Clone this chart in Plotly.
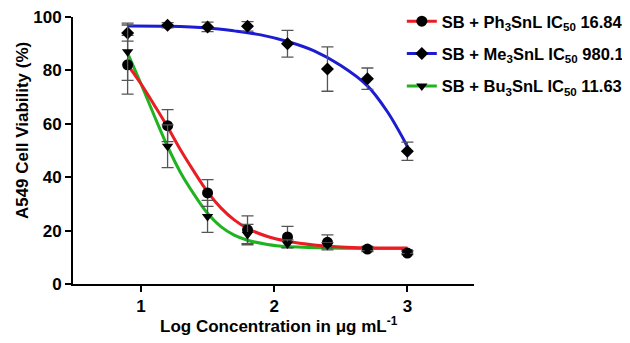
import plotly.graph_objects as go

# ---- data ----
log_conc = [0.9, 1.2, 1.5, 1.8, 2.1, 2.4, 2.7, 3.0]

ph_viab = [82.1, 59.3, 34.1, 20.3, 17.6, 15.6, 13.1, 11.6]
ph_err = [11.0, 6.0, 5.0, 5.2, 4.0, 2.8, 1.0, 0.6]

me_viab = [94.0, 96.9, 96.3, 96.5, 90.0, 80.5, 76.9, 49.7]
me_err = [3.0, 1.0, 1.8, 1.8, 5.0, 8.3, 4.0, 3.4]

bu_viab = [87.0, 51.6, 25.3, 18.5, 15.0, 14.5, 13.0, 12.0]
bu_err = [10.7, 8.0, 6.0, 3.8, 1.5, 1.0, 0.5, 0.5]

# fitted curves
ph_fit_x = [0.9, 1.0, 1.1, 1.2, 1.3, 1.4, 1.5, 1.6, 1.7, 1.8, 1.95, 2.1, 2.3, 2.5, 2.7, 3.0]
ph_fit_y = [82.1, 75.0, 67.0, 58.8, 50.0, 42.0, 34.5, 28.5, 24.0, 20.8, 17.8, 16.0, 14.6, 13.9, 13.6, 13.5]

bu_fit_x = [0.9, 1.0, 1.1, 1.2, 1.3, 1.4, 1.5, 1.6, 1.7, 1.8, 1.95, 2.1, 2.4, 3.0]
bu_fit_y = [86.5, 75.0, 63.0, 51.5, 41.5, 33.5, 26.5, 21.5, 18.3, 16.4, 14.8, 14.0, 13.5, 13.3]

me_fit_x = [0.9, 1.2, 1.5, 1.7, 1.9, 2.1, 2.3, 2.5, 2.7, 2.85, 3.0]
me_fit_y = [96.6, 96.5, 95.9, 94.8, 93.3, 90.8, 87.3, 81.8, 74.2, 64.5, 51.5]

names = [
    "SB + Ph<sub>3</sub>SnL IC<sub>50</sub> 16.84",
    "SB + Me<sub>3</sub>SnL IC<sub>50</sub> 980.1",
    "SB + Bu<sub>3</sub>SnL IC<sub>50</sub> 11.63",
]
x_title = "Log Concentration in μg mL<sup>-1</sup>"
y_title = "A549 Cell Viability (%)"
x_ticks = [1, 2, 3]
y_ticks = [0, 20, 40, 60, 80, 100]

RED, BLUE, GREEN = "#ea1c24", "#1c1cd0", "#1fb31f"
FONT = "Liberation Sans, Arial, sans-serif"

fig = go.Figure()

series = [
    (ph_fit_x, ph_fit_y, ph_viab, ph_err, RED, "circle", 11, names[0]),
    (me_fit_x, me_fit_y, me_viab, me_err, BLUE, "diamond", 10, names[1]),
    (bu_fit_x, bu_fit_y, bu_viab, bu_err, GREEN, "triangle-down", 10, names[2]),
]

# curves
for fx, fy, _, _, col, _, _, _ in [series[1], series[2], series[0]]:
    fig.add_trace(go.Scatter(x=fx, y=fy, mode="lines", line=dict(color=col, width=3, shape="spline"),
                             showlegend=False, hoverinfo="skip"))

# points with error bars
for fx, fy, vy, ve, col, sym, sz, nm in series:
    fig.add_trace(go.Scatter(
        x=log_conc, y=vy, mode="markers",
        marker=dict(symbol=sym, size=sz, color="black"),
        error_y=dict(type="data", array=ve, visible=True, color="#555555", thickness=1.3, width=6),
        showlegend=False,
    ))

# legend entries
for i, (fx, fy, vy, ve, col, sym, sz, nm) in enumerate(series):
    fig.add_trace(go.Scatter(
        x=[None], y=[None], mode="lines+markers", name=nm,
        line=dict(color=col, width=3),
        marker=dict(symbol=sym, size=sz, color="black"),
        legendgroup=f"g{i}",
    ))

axis_common = dict(
    showline=True, linecolor="black", linewidth=2,
    ticks="outside", ticklen=6, tickwidth=2, tickcolor="black",
    showgrid=False, zeroline=False, ticklabeloverflow="allow",
    tickfont=dict(family=FONT, size=17, color="black", weight="bold"),
)

title_font = dict(family=FONT, size=17, color="black", weight="bold")

# the page body adds an 8px margin, so the figure is 8px smaller and shifted accordingly
fig.update_layout(
    width=622, height=335,
    margin=dict(l=65, r=156, t=9, b=59, autoexpand=False),
    paper_bgcolor="white", plot_bgcolor="white",
    font=dict(family=FONT, color="black"),
    xaxis=dict(range=[0.49, 3.5], tickvals=x_ticks, ticktext=[str(t) for t in x_ticks], **axis_common),
    yaxis=dict(range=[0, 100], tickvals=y_ticks, ticktext=[str(t) for t in y_ticks], **axis_common),
    legend=dict(x=0.82, y=1.049, xanchor="left", yanchor="top", traceorder="grouped",
                tracegroupgap=8, bgcolor="rgba(0,0,0,0)",
                font=dict(family=FONT, size=16.5, color="black", weight="bold")),
    showlegend=True,
    annotations=[
        dict(text=x_title, xref="paper", yref="paper", x=0.514, y=-0.155,
             xanchor="center", yanchor="middle", showarrow=False, font=title_font),
        dict(text=y_title, xref="paper", yref="paper", x=-0.127, y=0.573, textangle=-90,
             xanchor="center", yanchor="middle", showarrow=False, font=title_font),
    ],
)

fig.write_html("out.html")
